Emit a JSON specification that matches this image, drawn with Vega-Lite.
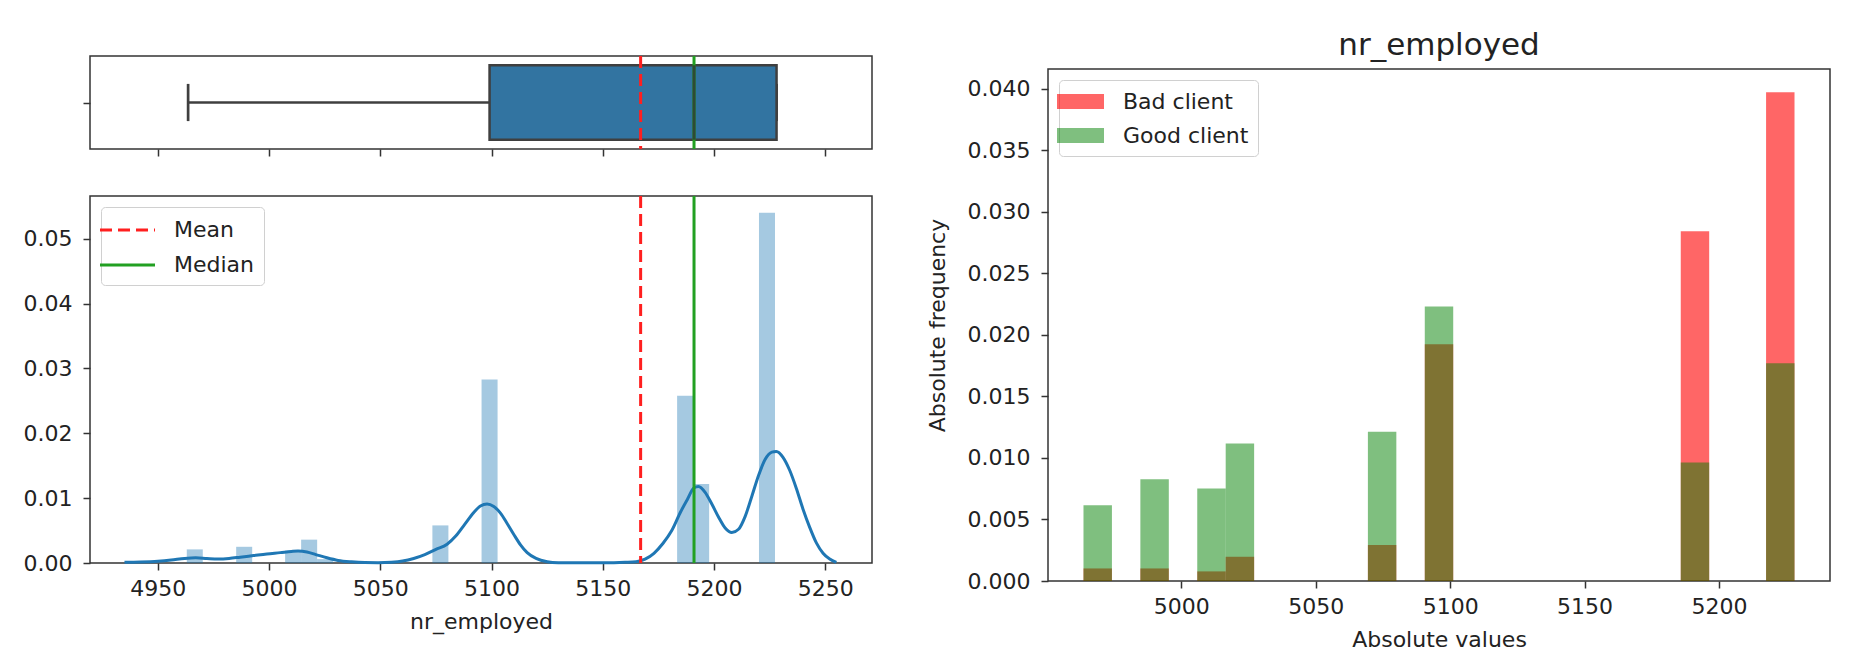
{
  "$schema": "https://vega.github.io/schema/vega-lite/v6.json",
  "background": "white",
  "padding": {"left": 22, "top": 29, "right": 5, "bottom": 5},
  "bounds": "flush",
  "spacing": 958,
  "resolve": {
    "scale": {"color": "independent", "opacity": "independent", "strokeDash": "independent"},
    "legend": {"color": "independent", "opacity": "independent", "strokeDash": "independent"}
  },
  "datasets": {
    "box": [{"min": 4963.6, "q1": 5099.1, "median": 5191.0, "q3": 5228.1, "max": 5228.1}],
    "stats": [
      {"stat": "Mean", "value": 5167.0},
      {"stat": "Median", "value": 5191.0}
    ],
    "hist": [
      {"start": 4963.0, "end": 4970.2, "density": 0.0021},
      {"start": 4985.2, "end": 4992.4, "density": 0.0025},
      {"start": 5007.2, "end": 5014.4, "density": 0.0019},
      {"start": 5014.4, "end": 5021.6, "density": 0.0036},
      {"start": 5021.6, "end": 5028.8, "density": 0.0006},
      {"start": 5073.4, "end": 5080.6, "density": 0.0058},
      {"start": 5095.5, "end": 5102.7, "density": 0.0283},
      {"start": 5183.4, "end": 5190.6, "density": 0.0258},
      {"start": 5190.6, "end": 5197.8, "density": 0.0122},
      {"start": 5220.2, "end": 5227.4, "density": 0.0540}
    ],
    "kde": [
      {"x": 4935, "y": 0.0001}, {"x": 4942, "y": 0.00015}, {"x": 4950, "y": 0.00027},
      {"x": 4956, "y": 0.00045}, {"x": 4962, "y": 0.0007}, {"x": 4967, "y": 0.0008},
      {"x": 4972, "y": 0.0007}, {"x": 4977, "y": 0.00062}, {"x": 4982, "y": 0.0007},
      {"x": 4987, "y": 0.0009}, {"x": 4993, "y": 0.00115}, {"x": 4999, "y": 0.0014},
      {"x": 5005, "y": 0.0016}, {"x": 5010, "y": 0.00178}, {"x": 5013, "y": 0.00185},
      {"x": 5017, "y": 0.0017}, {"x": 5021, "y": 0.0013}, {"x": 5026, "y": 0.0008},
      {"x": 5031, "y": 0.0004}, {"x": 5037, "y": 0.00018}, {"x": 5043, "y": 0.00007},
      {"x": 5049, "y": 0.00005}, {"x": 5055, "y": 0.00012}, {"x": 5060, "y": 0.0003},
      {"x": 5065, "y": 0.0007}, {"x": 5070, "y": 0.0013}, {"x": 5075, "y": 0.0021},
      {"x": 5080, "y": 0.0029}, {"x": 5084, "y": 0.0042}, {"x": 5088, "y": 0.006},
      {"x": 5092, "y": 0.0078}, {"x": 5095, "y": 0.0088}, {"x": 5098, "y": 0.0091},
      {"x": 5101, "y": 0.0087}, {"x": 5104, "y": 0.0077}, {"x": 5107, "y": 0.0061},
      {"x": 5110, "y": 0.0044}, {"x": 5113, "y": 0.0028}, {"x": 5116, "y": 0.0016},
      {"x": 5120, "y": 0.0007}, {"x": 5125, "y": 0.0002}, {"x": 5130, "y": 0.00005},
      {"x": 5140, "y": 0.00002}, {"x": 5150, "y": 0.00002}, {"x": 5160, "y": 0.0001},
      {"x": 5165, "y": 0.0002}, {"x": 5169, "y": 0.0006}, {"x": 5173, "y": 0.0015},
      {"x": 5177, "y": 0.003}, {"x": 5181, "y": 0.005}, {"x": 5185, "y": 0.0079},
      {"x": 5188, "y": 0.0098}, {"x": 5191, "y": 0.0116}, {"x": 5193, "y": 0.0118},
      {"x": 5196, "y": 0.0109}, {"x": 5199, "y": 0.0091}, {"x": 5202, "y": 0.0071},
      {"x": 5205, "y": 0.0054}, {"x": 5208, "y": 0.0047}, {"x": 5211, "y": 0.0052},
      {"x": 5214, "y": 0.0072}, {"x": 5217, "y": 0.0103}, {"x": 5220, "y": 0.0135},
      {"x": 5223, "y": 0.016}, {"x": 5226, "y": 0.0171}, {"x": 5228, "y": 0.0172},
      {"x": 5231, "y": 0.0163}, {"x": 5234, "y": 0.0143}, {"x": 5237, "y": 0.0115},
      {"x": 5240, "y": 0.0083}, {"x": 5243, "y": 0.0055}, {"x": 5246, "y": 0.0031},
      {"x": 5249, "y": 0.0015}, {"x": 5252, "y": 0.0006}, {"x": 5255, "y": 0.0001}
    ],
    "byclient": [
      {"client": "Bad client", "start": 4963.6, "end": 4974.18, "density": 0.00102},
      {"client": "Bad client", "start": 4984.76, "end": 4995.34, "density": 0.00102},
      {"client": "Bad client", "start": 5005.92, "end": 5016.5, "density": 0.00078},
      {"client": "Bad client", "start": 5016.5, "end": 5027.08, "density": 0.00197},
      {"client": "Bad client", "start": 5069.4, "end": 5079.98, "density": 0.00293},
      {"client": "Bad client", "start": 5090.56, "end": 5101.14, "density": 0.01923},
      {"client": "Bad client", "start": 5185.78, "end": 5196.36, "density": 0.02842},
      {"client": "Bad client", "start": 5217.52, "end": 5228.1, "density": 0.03972},
      {"client": "Good client", "start": 4963.6, "end": 4974.18, "density": 0.00616},
      {"client": "Good client", "start": 4984.76, "end": 4995.34, "density": 0.00827},
      {"client": "Good client", "start": 5005.92, "end": 5016.5, "density": 0.00752},
      {"client": "Good client", "start": 5016.5, "end": 5027.08, "density": 0.01117},
      {"client": "Good client", "start": 5069.4, "end": 5079.98, "density": 0.01212},
      {"client": "Good client", "start": 5090.56, "end": 5101.14, "density": 0.0223},
      {"client": "Good client", "start": 5185.78, "end": 5196.36, "density": 0.00963},
      {"client": "Good client", "start": 5217.52, "end": 5228.1, "density": 0.0177}
    ]
  },
  "hconcat": [
    {
      "bounds": "flush",
      "spacing": 47,
      "resolve": {
        "scale": {"color": "independent", "strokeDash": "independent"},
        "legend": {"color": "independent", "strokeDash": "independent"}
      },
      "vconcat": [
        {
          "width": 782,
          "height": 93,
          "layer": [
            {
              "data": {"name": "box"},
              "mark": {"type": "rule", "color": "#3f3f3f", "strokeWidth": 2.7},
              "encoding": {
                "x": {
                  "field": "min",
                  "type": "quantitative",
                  "scale": {"domain": [4919.5, 5271], "nice": false, "zero": false},
                  "axis": {"values": [4950, 5000, 5050, 5100, 5150, 5200, 5250], "labels": false, "title": null}
                },
                "x2": {"field": "q1"},
                "y": {
                  "datum": 0,
                  "type": "quantitative",
                  "scale": {"domain": [-0.5, 0.5], "nice": false, "zero": false},
                  "axis": {"values": [0], "labels": false, "title": null}
                }
              }
            },
            {
              "data": {"name": "box"},
              "mark": {"type": "rule", "color": "#3f3f3f", "strokeWidth": 2.7},
              "encoding": {
                "x": {"field": "min", "type": "quantitative"},
                "y": {"datum": -0.2},
                "y2": {"datum": 0.2}
              }
            },
            {
              "data": {"name": "box"},
              "mark": {"type": "rule", "color": "#3f3f3f", "strokeWidth": 2.7},
              "encoding": {
                "x": {"field": "max", "type": "quantitative"},
                "y": {"datum": -0.2},
                "y2": {"datum": 0.2}
              }
            },
            {
              "data": {"name": "box"},
              "mark": {"type": "rect", "fill": "#3274a1", "stroke": "#3f3f3f", "strokeWidth": 2.5},
              "encoding": {
                "x": {"field": "q1", "type": "quantitative"},
                "x2": {"field": "q3"},
                "y": {"datum": -0.4},
                "y2": {"datum": 0.4}
              }
            },
            {
              "data": {"name": "stats"},
              "mark": {"type": "rule", "strokeWidth": 3},
              "encoding": {
                "x": {"field": "value", "type": "quantitative"},
                "color": {
                  "field": "stat",
                  "type": "nominal",
                  "scale": {"domain": ["Mean", "Median"], "range": ["#ff1f1f", "#22a022"]},
                  "legend": null
                },
                "strokeDash": {
                  "field": "stat",
                  "type": "nominal",
                  "scale": {"domain": ["Mean", "Median"], "range": [[12, 6], [1, 0]]},
                  "legend": null
                }
              }
            },
            {
              "data": {"name": "box"},
              "mark": {"type": "rule", "color": "#2f4a33", "strokeWidth": 3},
              "encoding": {
                "x": {"field": "median", "type": "quantitative"},
                "y": {"datum": -0.4},
                "y2": {"datum": 0.4}
              }
            }
          ]
        },
        {
          "width": 782,
          "height": 367,
          "layer": [
            {
              "data": {"name": "hist"},
              "mark": {"type": "rect", "color": "#1f77b4", "opacity": 0.4},
              "encoding": {
                "x": {
                  "field": "start",
                  "type": "quantitative",
                  "scale": {"domain": [4919.5, 5271], "nice": false, "zero": false},
                  "axis": {"values": [4950, 5000, 5050, 5100, 5150, 5200, 5250], "format": "d", "title": "nr_employed"}
                },
                "x2": {"field": "end"},
                "y": {
                  "field": "density",
                  "type": "quantitative",
                  "scale": {"domain": [0, 0.0566], "nice": false},
                  "axis": {"values": [0, 0.01, 0.02, 0.03, 0.04, 0.05], "format": ".2f", "title": null}
                },
                "y2": {"datum": 0}
              }
            },
            {
              "data": {"name": "kde"},
              "mark": {"type": "line", "color": "#1f77b4", "strokeWidth": 3, "interpolate": "monotone"},
              "encoding": {
                "x": {"field": "x", "type": "quantitative"},
                "y": {"field": "y", "type": "quantitative"}
              }
            },
            {
              "data": {"name": "stats"},
              "mark": {"type": "rule", "strokeWidth": 3},
              "encoding": {
                "x": {"field": "value", "type": "quantitative"},
                "color": {
                  "field": "stat",
                  "type": "nominal",
                  "scale": {"domain": ["Mean", "Median"], "range": ["#ff1f1f", "#22a022"]},
                  "legend": {"title": null, "symbolType": "M-1.92,0H2.48", "symbolSize": 625, "symbolStrokeWidth": 3, "labelOffset": 36}
                },
                "strokeDash": {
                  "field": "stat",
                  "type": "nominal",
                  "scale": {"domain": ["Mean", "Median"], "range": [[12, 6], [1, 0]]},
                  "legend": {"title": null, "symbolType": "M-1.92,0H2.48", "symbolSize": 625, "symbolStrokeWidth": 3, "labelOffset": 36}
                }
              }
            }
          ],
          "resolve": {
            "scale": {"color": "independent", "strokeDash": "independent"},
            "legend": {"color": "independent", "strokeDash": "independent"}
          }
        }
      ]
    },
    {
      "bounds": "flush",
      "spacing": 12,
      "resolve": {
        "scale": {"color": "independent", "opacity": "independent"},
        "legend": {"color": "independent", "opacity": "independent"}
      },
      "vconcat": [
        {
          "width": 782,
          "height": 1,
          "view": {"stroke": null},
          "data": {"values": []},
          "mark": "rule",
          "encoding": {}
        },
        {
          "width": 782,
          "height": 512,
          "title": {"text": "nr_employed", "offset": 7},
          "data": {"name": "byclient"},
          "mark": {"type": "rect"},
          "encoding": {
            "x": {
              "field": "start",
              "type": "quantitative",
              "scale": {"domain": [4950.4, 5241.3], "nice": false, "zero": false},
              "axis": {"values": [5000, 5050, 5100, 5150, 5200], "format": "d", "title": "Absolute values"}
            },
            "x2": {"field": "end"},
            "y": {
              "field": "density",
              "type": "quantitative",
              "scale": {"domain": [0, 0.0416], "nice": false},
              "axis": {"values": [0, 0.005, 0.01, 0.015, 0.02, 0.025, 0.03, 0.035, 0.04], "format": ".3f", "title": "Absolute frequency", "titlePadding": 18}
            },
            "y2": {"datum": 0},
            "color": {
              "field": "client",
              "type": "nominal",
              "scale": {"domain": ["Bad client", "Good client"], "range": ["#ff0000", "#008000"]},
              "legend": {
                "title": null,
                "symbolType": "M-1.88,-0.6H1.88V0.6H-1.88Z",
                "symbolSize": 625,
                "symbolStrokeWidth": 0,
                "labelOffset": 30,
                "encode": {"symbols": {"update": {"opacity": {"signal": "datum.value === 'Bad client' ? 0.6 : 0.5"}}}}
              }
            },
            "opacity": {
              "field": "client",
              "type": "nominal",
              "scale": {"domain": ["Bad client", "Good client"], "range": [0.6, 0.5]},
              "legend": null
            }
          }
        }
      ]
    }
  ],
  "config": {
    "font": "DejaVu Sans",
    "view": {"stroke": "#333333", "strokeWidth": 1.5},
    "axis": {
      "grid": false,
      "domain": false,
      "tickColor": "#333333",
      "tickWidth": 1.5,
      "tickSize": 7,
      "labelFont": "DejaVu Sans",
      "labelFontSize": 22,
      "labelColor": "#222222",
      "labelPadding": 8,
      "labelFlush": false,
      "titleFont": "DejaVu Sans",
      "titleFontSize": 22,
      "titleFontWeight": "normal",
      "titleColor": "#222222",
      "titlePadding": 12
    },
    "axisY": {"labelPadding": 11},
    "legend": {
      "orient": "top-left",
      "offset": 11,
      "padding": 9,
      "strokeColor": "#d0d0d0",
      "fillColor": "white",
      "cornerRadius": 4,
      "labelFont": "DejaVu Sans",
      "labelFontSize": 22,
      "labelColor": "#222222",
      "labelOffset": 18,
      "rowPadding": 10
    },
    "title": {"font": "DejaVu Sans", "fontSize": 31, "fontWeight": "normal", "color": "#222222"}
  }
}
